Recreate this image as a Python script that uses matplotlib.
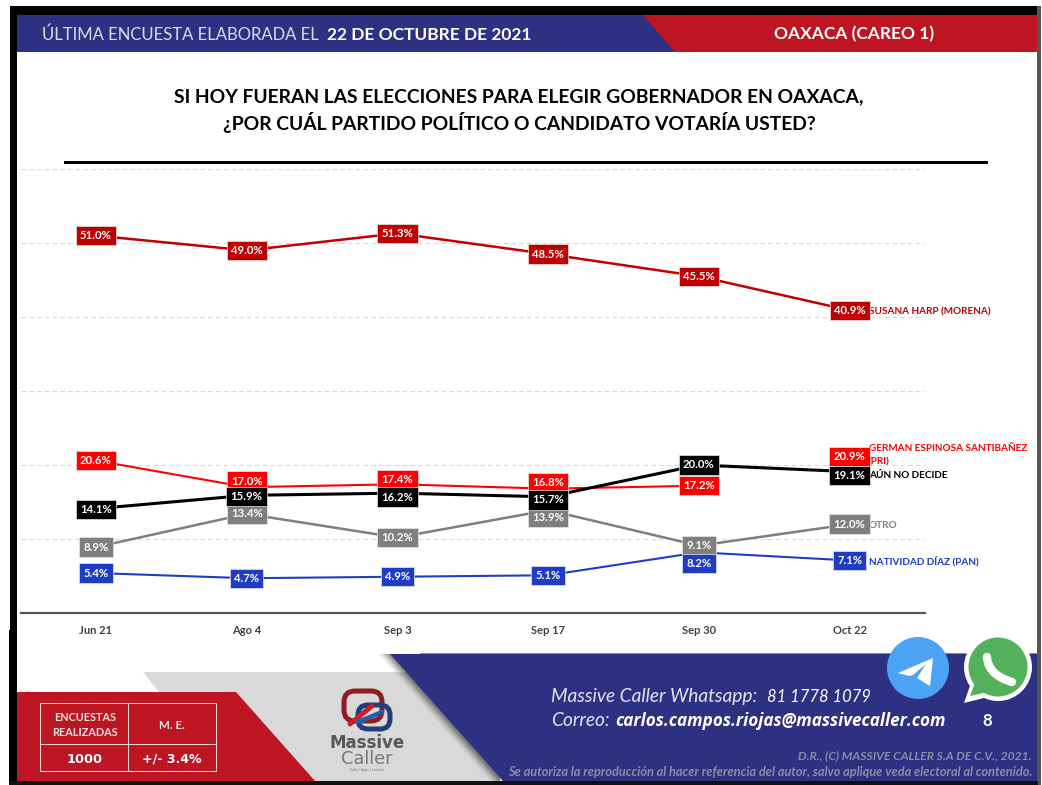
import matplotlib
matplotlib.use("Agg")
import matplotlib.pyplot as plt
from matplotlib.patches import Polygon, Rectangle, Circle, FancyBboxPatch, PathPatch
from matplotlib.path import Path

plt.rcParams["font.family"] = ["Lato", "DejaVu Sans"]

FECHAS = ["Jun 21", "Ago 4", "Sep 3", "Sep 17", "Sep 30", "Oct 22"]
MORENA = [51.0, 49.0, 51.3, 48.5, 45.5, 40.9]
PRI = [20.6, 17.0, 17.4, 16.8, 17.2, 20.9]
NO_DECIDE = [14.1, 15.9, 16.2, 15.7, 20.0, 19.1]
OTRO = [8.9, 13.4, 10.2, 13.9, 9.1, 12.0]
PAN = [5.4, 4.7, 4.9, 5.1, 8.2, 7.1]

# desplazamiento vertical de cada etiqueta, en pixeles (positivo = abajo)
OFF_MORENA = [0, 0, 0, 0, 0, 0]
OFF_PRI = [0, -6, -5, -6, 0, -2]
OFF_NO_DECIDE = [1, 1, 4, 3, 0, 4]
OFF_OTRO = [0, 0, 0, 7, 0, 0]
OFF_PAN = [0, 0, 0, 0, 11, 0]

AZUL = "#2E3082"
ROJO = "#BD1622"
W, H = 1042, 785

fig = plt.figure(figsize=(W / 100, H / 100), dpi=100, facecolor="white")

# capa de fondo en pixeles
bg = fig.add_axes([0, 0, 1, 1])
bg.set_xlim(0, W)
bg.set_ylim(H, 0)
bg.axis("off")


def poly(pts, color, z=1, alpha=None):
    bg.add_patch(Polygon(pts, closed=True, fc=color, ec="none", zorder=z, alpha=alpha))


def rect(x0, y0, x1, y1, color, z=1):
    bg.add_patch(Rectangle((x0, y0), x1 - x0, y1 - y0, fc=color, ec="none", zorder=z))


def txt(x, y, s, size, color="white", weight="normal", ha="left", style="normal", z=8, font=None):
    kw = {"family": font} if font else {}
    # +1.5: el centro de la caja de texto queda algo por encima de las mayusculas
    bg.text(x, y + 1.5, s, fontsize=size, color=color, fontweight=weight, ha=ha, va="center",
            fontstyle=style, zorder=z, **kw)


# marco
rect(10, 6, 1038, 15, "black")
rect(10, 6, 17, 785, "black")
rect(9, 630, 17, 785, "black")
rect(9, 781, 1038, 785, "#111111", 6)
rect(1037, 6, 1041, 785, "#555555")

# encabezado
rect(17, 15, 1037, 52, ROJO)
poly([(17, 15), (643, 15), (675, 52), (17, 52)], AZUL, 2)
txt(42, 33, "ÚLTIMA ENCUESTA ELABORADA EL", 12, "#DDDDEE", font="Lato")
txt(327, 33, "22 DE OCTUBRE DE 2021", 12.5, weight="bold")
txt(854, 33, "OAXACA (CAREO 1)", 12.5, weight="bold", ha="center")

# titulo
txt(519, 95, "SI HOY FUERAN LAS ELECCIONES PARA ELEGIR GOBERNADOR EN OAXACA,", 13.9, "black", "bold", "center")
txt(519, 121, "¿POR CUÁL PARTIDO POLÍTICO O CANDIDATO VOTARÍA USTED?", 13.9, "black", "bold", "center")
rect(64, 161, 988, 164, "black")

# pie
poly([(143, 672), (420, 672), (530, 781), (230, 781)], "#D9D9D9", 1)
for i, a in zip(range(12, 0, -2), [0.04, 0.06, 0.08, 0.10, 0.12, 0.14]):
    poly([(390 - i, 654), (500, 654), (500, 781), (505 - i - 3, 781)], "black", 2, a)
poly([(390, 654), (1037, 654), (1037, 781), (503, 781)], AZUL, 3)
rect(420, 653, 1037, 654, "#8A8AA8", 3)
poly([(17, 692), (236, 692), (315, 781), (17, 781)], ROJO, 4)

# tabla
for x0, y0, x1, y1 in [(40, 703, 217, 704), (40, 771, 217, 772), (40, 703, 41, 772),
                       (216, 703, 217, 772), (128, 703, 129, 772), (40, 744, 217, 745)]:
    rect(x0, y0, x1, y1, "#F0D5D7", 5)
txt(85, 716, "ENCUESTAS", 7.8, "#F3E0E0", "bold", "center")
txt(85, 731, "REALIZADAS", 7.8, "#F3E0E0", "bold", "center")
txt(172, 724, "M. E.", 8.4, "#F3E0E0", "bold", "center")
txt(85, 758, "1000", 9.3, "white", "bold", "center", font="DejaVu Sans")
txt(172, 758, "+/- 3.4%", 9.1, "white", "bold", "center", font="DejaVu Sans")

# logo
bg.add_patch(FancyBboxPatch((344, 691), 38, 30, boxstyle="round,pad=0,rounding_size=11",
                            fc="none", ec="#8E1D22", lw=3.6, zorder=5))
bg.add_patch(FancyBboxPatch((358, 705), 32, 24, boxstyle="round,pad=0,rounding_size=10",
                            fc="none", ec="#1F3F7A", lw=3.6, zorder=5))
bg.plot([350, 372], [724, 706], color="#C9202B", lw=3.6, zorder=6, solid_capstyle="round")
bg.plot([358, 382], [722, 712], color="#1C5FB0", lw=3.2, zorder=6, solid_capstyle="round")
txt(367, 741, "Massive", 12, "#57575A", "bold", "center", font="DejaVu Sans")
txt(367, 757, "Caller", 12.8, "#77777A", "normal", "center", font="DejaVu Sans")
txt(367, 769, "Polls / Apps / Limited", 2.5, "#77777A", "normal", "center")

# contacto
txt(551, 695, "Massive Caller Whatsapp:", 13.8, "#E4E4F0", style="italic", font="Lato")
txt(767, 695, "81 1778 1079", 11.9, "white", style="italic")
txt(551, 719, "Correo:", 13.8, "#E4E4F0", style="italic", font="Lato")
txt(615, 719, "carlos.campos.riojas@massivecaller.com", 12.35, "white", "bold", style="italic", font="Open Sans")
txt(987, 719, "8", 12, "white", "bold", "center")
txt(1032, 754, "D.R., (C) MASSIVE CALLER S.A DE C.V., 2021.", 8.7, "#8C8CA6", "bold", "right", "italic")
txt(1032, 770, "Se autoriza la reproducción al hacer referencia del autor, salvo aplique veda electoral al contenido.",
    9.2, "#8C8CA6", "bold", "right", "italic")

# telegram
bg.add_patch(Circle((918, 668), 31, fc="#4BA3F5", ec="none", zorder=7))
poly([(933, 658), (898, 673), (909, 676), (913, 675), (926, 664), (917, 678), (930, 686)], "white", 8)

# whatsapp
poly([(964, 703), (972, 680), (988, 697)], "white", 7)
bg.add_patch(Circle((998, 667), 34, fc="white", ec="none", zorder=7))
poly([(970, 696), (976, 680), (988, 692)], "#52B15A", 8)
bg.add_patch(Circle((998, 667), 29.5, fc="#52B15A", ec="none", zorder=8))
tel = Path([(987, 657), (988, 675), (1012, 682)], [Path.MOVETO, Path.CURVE3, Path.CURVE3])
bg.add_patch(PathPatch(tel, fc="none", ec="white", lw=6, capstyle="round", zorder=9))

# grafica
ax = fig.add_axes([20.6 / W, 1 - 613 / H, (925 - 20.6) / W, (613 - 169) / H])
ax.patch.set_alpha(0)
ax.set_xlim(-0.5, 5.5)
ax.set_ylim(0, 60)
ax.set_xticks(range(len(FECHAS)))
ax.set_xticklabels(FECHAS, fontsize=8, color="#404040", fontweight="bold")
ax.set_yticks(range(10, 70, 10))
ax.tick_params(axis="x", length=0, pad=8.5)
ax.tick_params(axis="y", length=0, labelleft=False)
ax.grid(axis="y", color="#D9D9D9", ls=(0, (4, 3)), lw=0.8)
ax.set_axisbelow(True)
for s in ["top", "left", "right"]:
    ax.spines[s].set_visible(False)
ax.spines["bottom"].set_color("#595959")
ax.spines["bottom"].set_linewidth(1.6)

x = list(range(len(FECHAS)))
series = [
    (MORENA, OFF_MORENA, "#C00000", 1.8, len(x)),
    (PRI, OFF_PRI, "#FF0000", 1.5, 5),  # PRI no une Sep 30 con Oct 22
    (OTRO, OFF_OTRO, "#7F7F7F", 1.8, len(x)),
    (PAN, OFF_PAN, "#1F3CC4", 1.5, len(x)),
    (NO_DECIDE, OFF_NO_DECIDE, "black", 2.2, len(x)),
]
for z, (vals, offs, color, lw, n) in enumerate(series):
    ax.plot(x[:n], vals[:n], color=color, lw=lw, zorder=3 + z * 0.1, clip_on=False)
for z, (vals, offs, color, lw, n) in enumerate(series):
    for xi, v, o in zip(x, vals, offs):
        ax.annotate(f"{v:.1f}%", (xi, v), xytext=(0, -o * 0.72), textcoords="offset points",
                    ha="center", va="center", fontsize=8.2, fontweight="bold", color="white",
                    zorder=5 + z * 0.1, annotation_clip=False,
                    bbox=dict(boxstyle="square,pad=0.37", fc=color, ec="#E6E6E6", lw=0.5))

# nombres a la derecha
txt(869, 310, "SUSANA HARP (MORENA)", 7.2, "#C00000", "bold", z=9)
txt(869, 447, "GERMAN ESPINOSA SANTIBAÑEZ", 7.2, "#FF0000", "bold", z=9)
txt(869, 460, "(PRI)", 7.2, "#FF0000", "bold", z=9)
txt(869, 474, "AÚN NO DECIDE", 7.2, "black", "bold", z=9)
txt(869, 524, "OTRO", 7.2, "#7F7F7F", "bold", z=9)
txt(869, 560, "NATIVIDAD DÍAZ (PAN)", 7.2, "#1F3CC4", "bold", z=9)

fig.savefig("out.png", dpi=100)
